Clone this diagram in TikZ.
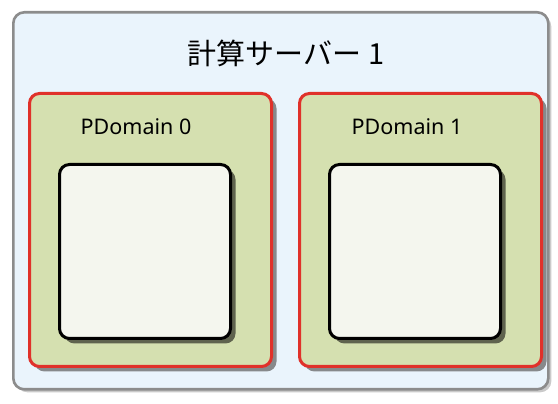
\documentclass[tikz,border=0pt]{standalone}
\usepackage{fontspec}
\setmainfont{Noto Sans}
\newfontfamily\cjk{Noto Sans CJK JP}
\usetikzlibrary{shadows}
\definecolor{outerfill}{HTML}{EAF4FC}
\definecolor{outerline}{HTML}{8C8C8C}
\definecolor{domfill}{HTML}{D5E0B0}
\definecolor{domline}{HTML}{E0312A}
\definecolor{innerfill}{HTML}{F4F6EE}
\tikzset{
  outerbox/.style={draw=outerline, line width=2.6pt, fill=outerfill, rounded corners=11pt,
    drop shadow={shadow xshift=3pt, shadow yshift=-3pt, fill=gray!70, opacity=0.6}},
  dombox/.style={draw=domline, line width=3pt, fill=domfill, rounded corners=10pt,
    drop shadow={shadow xshift=5pt, shadow yshift=-5pt, fill=black!60, opacity=0.75}},
  innerbox/.style={draw=black, line width=3pt, fill=innerfill, rounded corners=10pt,
    drop shadow={shadow xshift=5pt, shadow yshift=-5pt, fill=black!65!domfill, opacity=0.85}},
  lbl/.style={inner sep=0pt, anchor=center}
}
\begin{document}
\begin{tikzpicture}[x=1pt,y=1pt]
\useasboundingbox (0,0) rectangle (558,404);
\node[outerbox, minimum width=535pt, minimum height=377pt, anchor=north west, inner sep=0pt] (server) at (12,393) {};
\node[lbl, font=\cjk\fontsize{29}{34}\selectfont] (title) at (286,351) {計算サーバー 1};
\node[dombox, minimum width=242pt, minimum height=273pt, anchor=north west, inner sep=0pt] (d0) at (28,312) {};
\node[dombox, minimum width=242pt, minimum height=273pt, anchor=north west, inner sep=0pt] (d1) at (298,312) {};
\node[lbl, font=\fontsize{21.5}{26}\selectfont] (l0) at (136,277) {PDomain 0};
\node[lbl, font=\fontsize{21.5}{26}\selectfont] (l1) at (407,277) {PDomain 1};
\node[innerbox, minimum width=171pt, minimum height=174pt, anchor=north west, inner sep=0pt] (i0) at (58,241) {};
\node[innerbox, minimum width=171pt, minimum height=174pt, anchor=north west, inner sep=0pt] (i1) at (328,241) {};
\end{tikzpicture}
\end{document}
